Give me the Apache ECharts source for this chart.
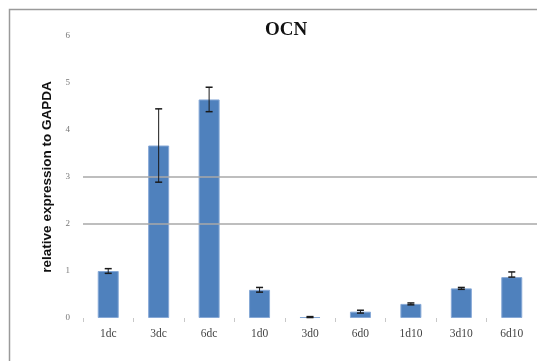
<!DOCTYPE html>
<html>
<head>
<meta charset="utf-8">
<script src="https://cdn.jsdelivr.net/npm/echarts@6/dist/echarts.min.js"></script>
<style>
  html, body { margin: 0; padding: 0; background: #fff; }
  #chart { width: 537px; height: 361px; }
</style>
</head>
<body>
<div id="chart"></div>
<script>
// OCN expression relative to GAPDA, mean with error range
const categories = ['1dc', '3dc', '6dc', '1d0', '3d0', '6d0', '1d10', '3d10', '6d10'];
const means      = [1.00, 3.67, 4.65, 0.60, 0.02, 0.135, 0.30, 0.63, 0.87];
const errUp      = [0.05, 0.78, 0.26, 0.05, 0.01, 0.03, 0.02, 0.02, 0.11];
const errDown    = [0.05, 0.78, 0.26, 0.05, 0.01, 0.03, 0.02, 0.02, 0.00];
const gridValues = [2, 3];

const chart = echarts.init(document.getElementById('chart'));

const errorData = categories.map((c, i) => [i, means[i] + errUp[i], means[i] - errDown[i]]);

chart.setOption({
  animation: false,
  backgroundColor: '#fff',
  graphic: [{
    type: 'rect',
    shape: { x: 9.5, y: 9.5, width: 560, height: 380 },
    style: { fill: 'none', stroke: '#9a9a9a', lineWidth: 1.5 },
    silent: true
  }],
  title: {
    text: 'OCN',
    left: 281,
    top: 16,
    textAlign: 'center',
    textStyle: { fontFamily: 'Liberation Serif', fontWeight: 'bold', fontSize: 19, color: '#111' }
  },
  grid: { left: 83, right: -2, top: 36, bottom: 43 },
  xAxis: {
    type: 'category',
    data: categories,
    axisLine: { show: false },
    axisTick: { show: true, length: 4, lineStyle: { color: '#c8c8c8' } },
    axisLabel: { fontFamily: 'Liberation Serif', fontSize: 11.5, color: '#444', margin: 10 }
  },
  yAxis: {
    type: 'value',
    min: 0, max: 6, interval: 1,
    name: 'relative expression to GAPDA',
    nameLocation: 'middle',
    nameGap: 26,
    nameTextStyle: { fontFamily: 'Liberation Sans', fontSize: 13.5, color: '#111', fontWeight: 'bold' },
    axisLine: { show: false },
    axisTick: { show: false },
    splitLine: { show: false },
    axisLabel: { fontFamily: 'Liberation Serif', fontSize: 9, color: '#777', margin: 13 }
  },
  series: [{
    type: 'bar',
    data: means,
    barWidth: 21,
    itemStyle: { color: '#4f81bd', borderColor: '#86a8d6', borderWidth: 1 },
    markLine: {
      silent: true,
      symbol: 'none',
      label: { show: false },
      lineStyle: { color: '#a8a8a8', width: 1.5, type: 'solid' },
      data: gridValues.map(v => ({ yAxis: v }))
    },
    z: 2
  }, {
    type: 'custom',
    data: errorData,
    z: 5,
    renderItem: function (params, api) {
      const x = api.value(0);
      const hi = api.coord([x, api.value(1)]);
      const lo = api.coord([x, api.value(2)]);
      const hw = 3.5;
      const style = { stroke: '#1a1a1a', lineWidth: 1 };
      return {
        type: 'group',
        children: [
          { type: 'line', shape: { x1: hi[0], y1: hi[1], x2: lo[0], y2: lo[1] }, style },
          { type: 'line', shape: { x1: hi[0] - hw, y1: hi[1], x2: hi[0] + hw, y2: hi[1] }, style: { stroke: '#1a1a1a', lineWidth: 1.5 } },
          { type: 'line', shape: { x1: lo[0] - hw, y1: lo[1], x2: lo[0] + hw, y2: lo[1] }, style: { stroke: '#1a1a1a', lineWidth: 1.5 } }
        ]
      };
    }
  }]
});
</script>
</body>
</html>
